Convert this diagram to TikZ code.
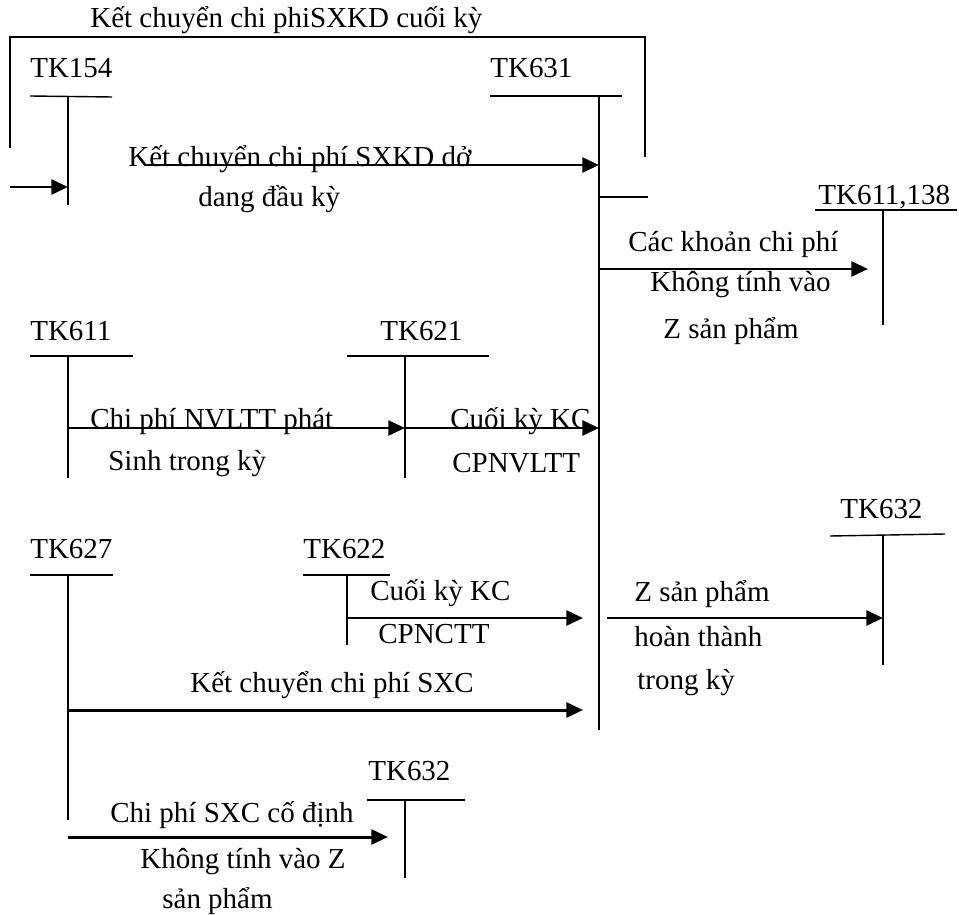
\documentclass[tikz,border=0pt]{standalone}
\usepackage{fontspec}
\setmainfont{Liberation Serif}
\usetikzlibrary{arrows.meta}
\tikzset{
  tline/.style={line width=0.8pt},
  arr/.style={line width=1.7pt, -{Triangle[length=9.5pt,width=8.5pt]}},
  lbl/.style={anchor=base west, inner sep=0pt, font=\fontsize{16.5}{19}\selectfont},
}

\begin{document}
\begin{tikzpicture}[x=0.02cm, y=-0.02cm]
  \useasboundingbox (0,0) rectangle (959,915);
  % T accounts: top of the stem, bottom of the stem
  \coordinate (t154) at (68,96);   \coordinate (b154) at (68,205);
  \coordinate (t631) at (599,96);  \coordinate (b631) at (599,730);
  \coordinate (t138) at (883,210); \coordinate (b138) at (883,325);
  \coordinate (t611) at (68,356);  \coordinate (b611) at (68,478);
  \coordinate (t621) at (405,356); \coordinate (b621) at (405,478);
  \coordinate (t627) at (68,575);  \coordinate (b627) at (68,820);
  \coordinate (t622) at (347,575); \coordinate (b622) at (347,645);
  \coordinate (t632) at (883,535); \coordinate (b632) at (883,665);
  \coordinate (t632b) at (405,800); \coordinate (b632b) at (405,878);
  \draw[tline] (30,96) -- (112,97);   \draw[tline] (t154) -- (b154);
  \draw[tline] (490,96) -- (622,96);  \draw[tline] (t631) -- (b631);
  \draw[tline] (815,210) -- (957,210); \draw[tline] (t138) -- (b138);
  \draw[tline] (30,356) -- (133,356); \draw[tline] (t611) -- (b611);
  \draw[tline] (347,356) -- (489,356); \draw[tline] (t621) -- (b621);
  \draw[tline] (30,575) -- (113,575); \draw[tline] (t627) -- (b627);
  \draw[tline] (303,575) -- (390,575); \draw[tline] (t622) -- (b622);
  \draw[tline] (830,536) -- (945,534); \draw[tline] (t632) -- (b632);
  \draw[tline] (367,800) -- (465,800); \draw[tline] (t632b) -- (b632b);
  % account names
  \node[lbl] (n154) at (30,78) {TK154};
  \node[lbl] (n631) at (490,78) {TK631};
  \node[lbl] (n138) at (818,205) {TK611,138};
  \node[lbl] (n611) at (30,340) {TK611};
  \node[lbl] (n621) at (380,340) {TK621};
  \node[lbl] (n627) at (30,558) {TK627};
  \node[lbl] (n622) at (303,558) {TK622};
  \node[lbl] (n632) at (840,518) {TK632};
  \node[lbl] (n632b) at (368,780) {TK632};
  % closing transfer round the top
  \coordinate (k1) at (10,148); \coordinate (k2) at (10,37);
  \coordinate (k3) at (645,37); \coordinate (k4) at (645,157);
  \draw[tline] (k1) -- (k2) -- (k3) -- (k4);
  \node[lbl] (kck) at (90,28) {Kết chuyển chi phiSXKD cuối kỳ};
  \coordinate (in154) at (10,187); \coordinate (e154) at (68,187);
  \draw[arr] (in154) -- (e154);
  \coordinate (s631) at (599,197); \coordinate (s631e) at (648,197);
  \draw[tline] (s631) -- (s631e);
  % opening balance
  \coordinate (a1) at (145,165); \coordinate (a1e) at (599,165);
  \draw[arr] (a1) -- (a1e);
  \node[lbl] (l1) at (128,167) {Kết chuyển chi phí SXKD dở};
  \node[lbl] (l1b) at (198,207) {dang đầu kỳ};
  % costs not in Z
  \coordinate (a2) at (599,269); \coordinate (a2e) at (868,269);
  \draw[arr] (a2) -- (a2e);
  \node[lbl] (l2) at (628,252) {Các khoản chi phí};
  \node[lbl] (l2b) at (650,292) {Không tính vào};
  \node[lbl] (l2c) at (663,338) {Z sản phẩm};
  % NVLTT
  \coordinate (a3) at (68,428); \coordinate (a3e) at (405,428);
  \draw[arr] (a3) -- (a3e);
  \node[lbl] (l3) at (90,428) {Chi phí NVLTT phát};
  \node[lbl] (l3b) at (108,470) {Sinh trong kỳ};
  \coordinate (a4e) at (599,428);
  \draw[arr] (a3e) -- (a4e);
  \node[lbl] (l4) at (450,428) {Cuối kỳ KC};
  \node[lbl] (l4b) at (452,472) {CPNVLTT};
  % NCTT
  \coordinate (a5) at (347,618); \coordinate (a5e) at (583,618);
  \draw[arr] (a5) -- (a5e);
  \node[lbl] (l5) at (370,600) {Cuối kỳ KC};
  \node[lbl] (l5b) at (378,643) {CPNCTT};
  % SXC
  \coordinate (a6) at (68,710); \coordinate (a6e) at (583,710);
  \draw[arr] (a6) -- (a6e);
  \node[lbl] (l6) at (190,692) {Kết chuyển chi phí SXC};
  % finished goods
  \coordinate (a7) at (607,618); \coordinate (a7e) at (883,618);
  \draw[arr] (a7) -- (a7e);
  \node[lbl] (l7) at (634,601) {Z sản phẩm};
  \node[lbl] (l7b) at (634,646) {hoàn thành};
  \node[lbl] (l7c) at (637,689) {trong kỳ};
  % fixed SXC
  \coordinate (a8) at (68,837); \coordinate (a8e) at (388,837);
  \draw[arr] (a8) -- (a8e);
  \node[lbl] (l8) at (110,822) {Chi phí SXC cố định};
  \node[lbl] (l8b) at (140,868) {Không tính vào Z};
  \node[lbl] (l8c) at (162,908) {sản phẩm};
\end{tikzpicture}
\end{document}
